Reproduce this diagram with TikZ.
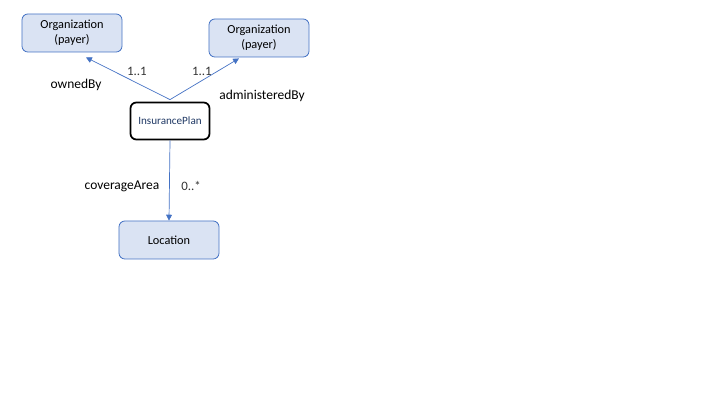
\documentclass[tikz,border=0pt]{standalone}
\usepackage{fontspec}
\setmainfont{Carlito}
\usepackage{xcolor}
\usepackage{tikz}
\usetikzlibrary{arrows.meta, positioning}
\definecolor{umlblue}{RGB}{68, 114, 196}
\definecolor{umlfill}{RGB}{218, 227, 243}
\definecolor{umlnavy}{RGB}{31, 56, 100}

\begin{document}
\begin{tikzpicture}[x=0.03cm, y=-0.03cm,
          classNode/.style={rectangle, draw=umlblue, fill=umlfill, rounded corners=5pt, line width=0.7pt, minimum width=3cm, minimum height=1.14cm, align=center, font=\fontsize{10.5}{12.5}\selectfont},
          focusNode/.style={rectangle, draw=black, fill=white, rounded corners=5pt, line width=1.5pt, minimum width=2.37cm, minimum height=1.11cm, text=umlnavy, font=\fontsize{9.5}{11}\selectfont},
          link/.style={-{Triangle[width=5pt, length=5pt]}, line width=0.6pt, draw=umlblue},
          role/.style={font=\fontsize{11.5}{14}\selectfont},
          mult/.style={font=\fontsize{11}{13}\selectfont, text=black!80}
        ]
          \useasboundingbox (0,0) rectangle (720,405);
          \node[classNode] (owner) at (72, 33) {Organization\\(payer)};
          \node[classNode] (admin) at (259, 38) {Organization\\(payer)};
          \node[focusNode] (plan) at (170, 121) {InsurancePlan};
          \node[classNode] (location) at (169, 240) {Location};

          \coordinate (start) at ([yshift=0.06cm]plan.north);
          \draw[link] (start) -- ([xshift=0.42cm, yshift=-0.15cm]owner.south);
          \draw[link] (start) -- ([xshift=-0.6cm, yshift=-0.03cm]admin.south);
          \draw[link] (plan.south) -- (location.north);

          \node[mult] at (137, 71) {1..1};
          \node[mult] at (202, 71) {1..1};
          \node[role] at (76, 85) {ownedBy};
          \node[role] at (262, 96) {administeredBy};
          \node[role] at (122, 186) {coverageArea};
          \node[mult] at (191, 186) {0..*};
        \end{tikzpicture}
\end{document}
